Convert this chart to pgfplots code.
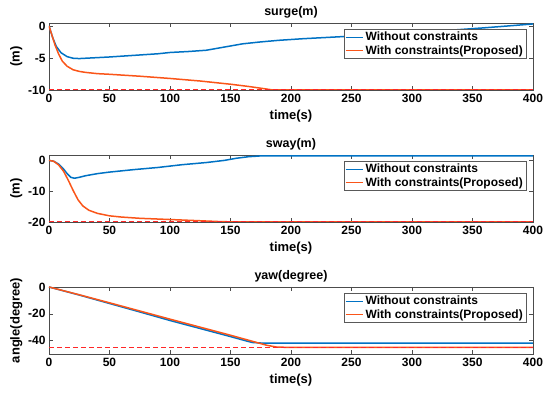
\documentclass[border=0pt]{standalone}
\usepackage{fontspec}
\setmainfont{Liberation Sans}
\usepackage{pgfplots}
\pgfplotsset{compat=1.18}
\definecolor{mblue}{RGB}{0,114,196}
\definecolor{morange}{RGB}{250,85,25}
\definecolor{mred}{RGB}{255,40,40}
\pgfplotsset{
  myax/.style={
    scale only axis, width=484pt, height=67pt,
    xmin=0, xmax=400, xtick={0,50,...,400},
    tick align=inside, major tick length=4pt,
    /pgf/number format/assume math mode=true,
    ticklabel style={font=\bfseries\fontsize{12}{13}\selectfont},
    xticklabel style={yshift=-1pt},
    title style={font=\bfseries\fontsize{12.5}{13}\selectfont, yshift=-5pt},
    label style={font=\bfseries\fontsize{13}{14}\selectfont},
    xlabel={time(s)},
    ylabel style={yshift=-1pt},
    axis line style={gray!60!black, line width=0.5pt},
    every tick/.style={gray!60!black},
    legend cell align=left,
    legend image post style={line width=1.5pt},
    legend style={at={(rel axis cs:1,1)}, anchor=north east, xshift=-7pt, yshift=-6pt,
      font=\bfseries\fontsize{12}{13}\selectfont, draw=gray!70!black, inner sep=1pt,
      row sep=-1pt},
  },
  lim/.style={draw=mred, line width=1.3pt, dash pattern=on 5pt off 3pt, forget plot},
}
\begin{document}
\begin{tikzpicture}
\useasboundingbox (-49pt,0pt) rectangle (501pt,393pt);
% surge
\begin{axis}[myax, at={(0pt,303pt)}, ymin=-10, ymax=0.45, ytick={-10,-5,0}, title={surge(m)}, ylabel={(m)}]
\addplot[mblue, line width=1.5pt] coordinates {(0,0) (3,-1.8) (6,-3.2) (10,-4.2) (15,-4.8) (20,-5.05) (25,-5.1) (35,-5.0) (50,-4.85) (70,-4.6) (90,-4.35) (100,-4.15) (115,-4.0) (130,-3.8) (145,-3.3) (160,-2.8) (175,-2.5) (190,-2.25) (210,-2.0) (240,-1.7) (270,-1.35) (300,-1.0) (330,-0.7) (360,-0.3) (380,0.0) (400,0.3)};
\addlegendentry{Without constraints}
\addplot[morange, line width=1.5pt] coordinates {(0,0) (2,-1.2) (5,-3.0) (8,-4.4) (11,-5.5) (15,-6.3) (20,-6.85) (25,-7.1) (30,-7.25) (40,-7.45) (50,-7.55) (75,-7.85) (100,-8.2) (125,-8.6) (150,-9.1) (165,-9.45) (178,-9.8) (185,-10) (400,-10)};
\addlegendentry{With constraints(Proposed)}
\addplot[lim] coordinates {(0,-10) (400,-10)};
\end{axis}
% sway
\begin{axis}[myax, at={(0pt,171pt)}, ymin=-20, ymax=1.75, ytick={-20,-10,0}, title={sway(m)}, ylabel={(m)}]
\addplot[mblue, line width=1.5pt] coordinates {(0,0) (4,-0.3) (8,-1.2) (12,-2.8) (15,-4.3) (18,-5.5) (21,-5.8) (25,-5.5) (30,-5.0) (40,-4.3) (50,-3.8) (70,-3.0) (90,-2.3) (110,-1.4) (130,-0.7) (145,0.0) (155,0.7) (165,1.2) (175,1.45) (190,1.5) (400,1.5)};
\addlegendentry{Without constraints}
\addplot[morange, line width=1.5pt] coordinates {(0,0) (4,-0.3) (8,-1.5) (12,-3.5) (16,-6.5) (20,-9.8) (24,-12.8) (28,-14.8) (33,-16.2) (40,-17.2) (50,-18.0) (60,-18.4) (75,-18.8) (100,-19.2) (125,-19.6) (140,-19.85) (155,-20) (400,-20)};
\addlegendentry{With constraints(Proposed)}
\addplot[lim] coordinates {(0,-20) (400,-20)};
\end{axis}
% yaw
\begin{axis}[myax, at={(0pt,39pt)}, ymin=-50, ymax=0, ytick={-40,-20,0}, title={yaw(degree)}, ylabel={angle(degree)}]
\addplot[mblue, line width=1.5pt] coordinates {(0,0) (25,-6) (50,-12.3) (75,-18.6) (100,-25) (125,-31) (150,-37) (162,-40) (168,-41.4) (175,-41.8) (400,-41.8)};
\addlegendentry{Without constraints}
\addplot[morange, line width=1.5pt] coordinates {(0,0) (25,-5.8) (50,-11.8) (75,-17.9) (100,-24) (125,-30) (150,-36) (170,-41) (180,-43.5) (188,-44.8) (195,-45) (400,-45)};
\addlegendentry{With constraints(Proposed)}
\addplot[lim] coordinates {(0,-45) (400,-45)};
\end{axis}
\end{tikzpicture}
\end{document}
